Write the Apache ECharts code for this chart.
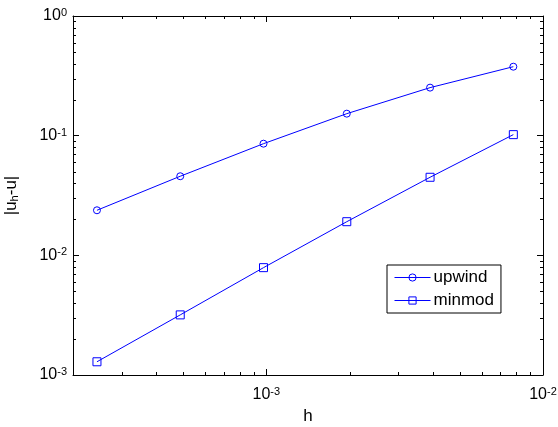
<!DOCTYPE html>
<html>
<head>
<meta charset="utf-8">
<script src="https://cdn.jsdelivr.net/npm/echarts@6/dist/echarts.min.js"></script>
<style>html,body{margin:0;padding:0;background:#fff}#c{width:558px;height:427px}</style>
</head>
<body>
<div id="c"></div>
<script>
// ---- data ----
const h = [1/4096, 1/2048, 1/1024, 1/512, 1/256, 1/128];
const upwind = [0.0238, 0.0458, 0.0857, 0.1527, 0.252, 0.377];
const minmod = [0.00129, 0.00318, 0.00789, 0.0191, 0.0449, 0.102];
const seriesNames = ['upwind', 'minmod'];
const xRange = [2e-4, 1e-2];
const yRange = [1e-3, 1];
const xTitle = 'h';

// minor tick positions (2..9 x 10^k) inside the ranges
function minors(r) {
  const out = [];
  for (let k = Math.floor(Math.log10(r[0])); k < Math.ceil(Math.log10(r[1])); k++) {
    for (let m = 2; m <= 9; m++) {
      const v = m * Math.pow(10, k);
      if (v > r[0] * 1.0001 && v < r[1] * 0.9999) out.push(v);
    }
  }
  return out;
}
const xMinor = minors(xRange);
const yMinor = minors(yRange);
const tickData = xMinor.map(v => [v, yRange[0], 0]).concat(yMinor.map(v => [xRange[0], v, 1]));

const FONT = 'Liberation Sans, Arial, sans-serif';
const rich = {
  b: {fontSize: 16, fontFamily: FONT, color: '#000', lineHeight: 17},
  s: {fontSize: 11, fontFamily: FONT, color: '#000', verticalAlign: 'top', lineHeight: 11}
};
function powLabel(v) {
  const e = Math.log10(v);
  const r = Math.round(e);
  if (Math.abs(e - r) > 1e-6) return '';
  return '{b|10}{s|' + r + '}';
}
const axisLine = {show: true, onZero: false, lineStyle: {color: '#000', width: 1}};
const axisTick = {show: true, inside: true, length: 6, lineStyle: {color: '#000', width: 1}};
const markerStyle = {color: 'rgba(0,0,0,0)', borderColor: '#0000ff', borderWidth: 1};

const chart = echarts.init(document.getElementById('c'), null, {renderer: 'canvas'});
chart.setOption({
  animation: false,
  backgroundColor: '#fff',
  grid: {left: 73, right: 15, top: 16, bottom: 52, containLabel: false, outerBoundsMode: 'none'},
  xAxis: [
    {type: 'log', logBase: 10, min: xRange[0], max: xRange[1], position: 'bottom',
     axisLine: axisLine, axisTick: axisTick, splitLine: {show: false}, minorTick: {show: false},
     axisLabel: {formatter: powLabel, rich: rich, margin: 11, hideOverlap: false},
     name: xTitle, nameLocation: 'middle', nameGap: 33,
     nameTextStyle: {fontSize: 17, fontFamily: FONT, color: '#000'}},
    {type: 'log', logBase: 10, min: xRange[0], max: xRange[1], position: 'top',
     axisLine: axisLine, axisTick: axisTick, splitLine: {show: false},
     axisLabel: {show: false}}
  ],
  yAxis: [
    {type: 'log', logBase: 10, min: yRange[0], max: yRange[1], position: 'left',
     axisLine: axisLine, axisTick: axisTick, splitLine: {show: false},
     axisLabel: {formatter: powLabel, rich: rich, margin: 6, hideOverlap: false},
     name: '|u{sub|h}-u|', nameLocation: 'middle', nameGap: 53, nameRotate: 90,
     nameTextStyle: {fontSize: 17, fontFamily: FONT, color: '#000',
       rich: {sub: {fontSize: 11, fontFamily: FONT, color: '#000', verticalAlign: 'bottom', lineHeight: 11}}}},
    {type: 'log', logBase: 10, min: yRange[0], max: yRange[1], position: 'right',
     axisLine: axisLine, axisTick: axisTick, splitLine: {show: false},
     axisLabel: {show: false}}
  ],
  legend: {
    data: seriesNames,
    orient: 'vertical',
    left: 387, top: 265,
    padding: [4, 7, 4, 7],
    itemWidth: 36, itemHeight: 9, itemGap: 6,
    backgroundColor: '#fff',
    borderColor: '#000', borderWidth: 1, borderRadius: 0,
    itemStyle: {color: 'rgba(0,0,0,0)', borderColor: '#0000ff', borderWidth: 1},
    lineStyle: {color: '#0000ff', width: 1},
    textStyle: {fontSize: 17, fontFamily: FONT, color: '#000', padding: [0, 0, 0, -2]}
  },
  series: [
    {name: seriesNames[0], type: 'line', xAxisIndex: 0, yAxisIndex: 0,
     data: h.map((x, i) => [x, upwind[i]]),
     symbol: 'circle', symbolSize: 7,
     lineStyle: {color: '#0000ff', width: 1}, itemStyle: markerStyle},
    {name: seriesNames[1], type: 'line', xAxisIndex: 0, yAxisIndex: 0,
     data: h.map((x, i) => [x, minmod[i]]),
     symbol: 'rect', symbolSize: 8,
     lineStyle: {color: '#0000ff', width: 1}, itemStyle: markerStyle},
    {name: 'minorTicks', type: 'custom', xAxisIndex: 0, yAxisIndex: 0, silent: true,
     data: tickData, clip: false,
     renderItem: function (params, api) {
       const cs = params.coordSys;
       const kind = api.value(2);
       const st = {stroke: '#000', lineWidth: 1};
       const L = 3;
       if (kind === 0) {
         const x = Math.round(api.coord([api.value(0), yRange[0]])[0]) + 0.5;
         return {type: 'group', children: [
           {type: 'line', shape: {x1: x, y1: cs.y + cs.height, x2: x, y2: cs.y + cs.height - L}, style: st},
           {type: 'line', shape: {x1: x, y1: cs.y, x2: x, y2: cs.y + L}, style: st}
         ]};
       } else {
         const y = Math.round(api.coord([xRange[0], api.value(1)])[1]) + 0.5;
         return {type: 'group', children: [
           {type: 'line', shape: {x1: cs.x, y1: y, x2: cs.x + L, y2: y}, style: st},
           {type: 'line', shape: {x1: cs.x + cs.width, y1: y, x2: cs.x + cs.width - L, y2: y}, style: st}
         ]};
       }
     }}
  ]
});
</script>
</body>
</html>
